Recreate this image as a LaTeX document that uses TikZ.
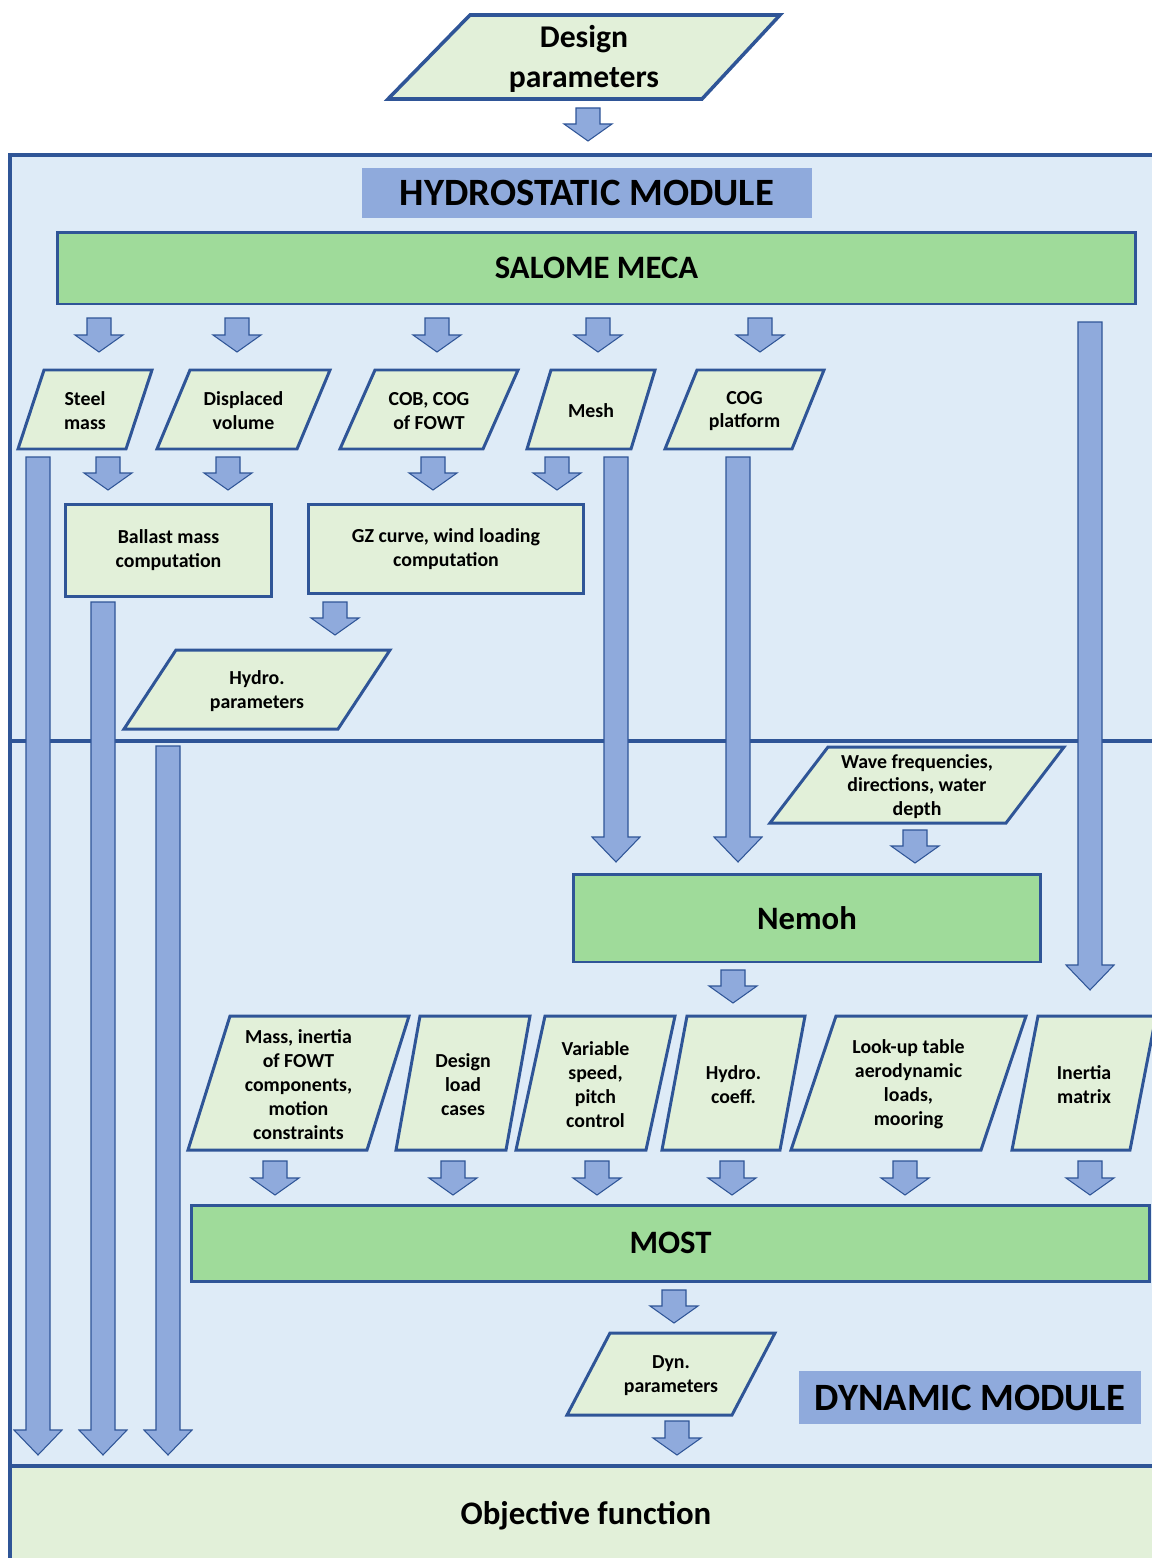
\documentclass[tikz,border=0pt]{standalone}
\usepackage{fontspec}
\setmainfont{Carlito}
\definecolor{FlowBlue}{HTML}{2F5597}
\definecolor{FlowSky}{HTML}{DEEBF7}
\definecolor{FlowMint}{HTML}{E2F0D9}
\definecolor{FlowGreen}{HTML}{9FDB9A}
\definecolor{FlowSteel}{HTML}{8FAADC}
\tikzset{
    % Frames of the two modules
    modframe/.style={
        draw=FlowBlue,
        fill=FlowSky,
        line width=1.8pt
    },
    goalframe/.style={
        draw=FlowBlue,
        fill=FlowMint,
        line width=1.8pt
    },
    % Node styles
    titlebox/.style={
        rectangle,
        fill=FlowSteel,
        inner sep=0pt,
        font=\bfseries\fontsize{22}{26}\selectfont
    },
    toolbox/.style={
        rectangle,
        draw=FlowBlue,
        fill=FlowGreen,
        line width=1.7pt,
        inner sep=0pt,
        font=\bfseries\fontsize{18.6}{22}\selectfont
    },
    calcbox/.style={
        rectangle,
        draw=FlowBlue,
        fill=FlowMint,
        line width=1.7pt,
        inner sep=0pt,
        align=center,
        font=\bfseries\fontsize{11.3}{13.6}\selectfont
    },
    dataline/.style={
        draw=FlowBlue,
        fill=FlowMint,
        line width=1.7pt,
        line join=miter
    },
    datatext/.style={
        align=center,
        inner sep=0pt,
        font=\bfseries\fontsize{11.3}{13.6}\selectfont
    },
    % Block arrows
    fatarrow/.style={
        draw=FlowBlue,
        fill=FlowSteel,
        line width=0.6pt
    }
}
% parallelogram: name, x top-left, x top-right, y top, y bottom, slant, text
\newcommand{\databox}[7]{%
    \draw[dataline] (#2,#4) -- (#3,#4) -- ({#3-#6},#5) -- ({#2-#6},#5) -- cycle;
    \node[datatext] (#1) at ({(#2+#3-#6)/2},{(#4+#5)/2+1.5}) {#7};}
% block arrow: [head length] x, y top, y tip
\newcommand{\fatarrow}[4][17]{%
    \draw[fatarrow] ({#2-12},#3) -- ({#2+12},#3) -- ({#2+12},{#4-#1})
        -- ({#2+24},{#4-#1}) -- (#2,#4) -- ({#2-24},{#4-#1})
        -- ({#2-12},{#4-#1}) -- cycle;}

\begin{document}
\begin{tikzpicture}[x=0.02cm,y=-0.02cm]
    \useasboundingbox (0,0) rectangle (1152,1558);

    % Module frames
    \draw[modframe] (10,155) rectangle (1180,741);
    \draw[modframe] (10,741) rectangle (1180,1466);
    \draw[goalframe] (10,1466) rectangle (1180,1600);

    % Input
    \draw[dataline,line width=2pt] (470,15) -- (780,15) -- (702,99) -- (388,99) -- cycle;
    \node[datatext,font=\bfseries\fontsize{18}{23}\selectfont] (design) at (584,59) {Design\\parameters};
    \fatarrow{588}{108}{141}

    % Hydrostatic module
    \node[titlebox,minimum width=9cm,minimum height=1cm] (hydtitle) at (587,193) {HYDROSTATIC MODULE};
    \node[toolbox,minimum width=21.58cm,minimum height=1.44cm] (salome) at (596.5,268) {SALOME MECA};

    \foreach \xa in {99,237,437,598,760}
        \fatarrow{\xa}{318}{352};
    \fatarrow[25]{1090}{322}{990}

    \databox{steel}{44}{152}{370}{449}{26}{Steel\\mass}
    \databox{dispvol}{190}{330}{370}{449}{33}{Displaced\\volume}
    \databox{cobcog}{375}{518}{370}{449}{35}{COB, COG\\of FOWT}
    \databox{mesh}{551}{655}{370}{449}{24}{Mesh}
    \databox{cogplat}{697}{824}{370}{449}{32}{COG\\platform}

    \foreach \xa in {108,228,433,557}
        \fatarrow{\xa}{457}{490};

    \node[calcbox,minimum width=4.14cm,minimum height=1.84cm] (ballast) at (168.5,550.5) {Ballast mass\\computation};
    \node[calcbox,minimum width=5.52cm,minimum height=1.78cm] (gzcurve) at (446,549) {GZ curve, wind loading\\computation};

    \fatarrow{335}{602}{635}
    \databox{hydpar}{176}{390}{650}{729}{52}{Hydro.\\parameters}

    % Long arrows down to the objective function
    \fatarrow[25]{38}{457}{1455}
    \fatarrow[25]{103}{602}{1455}
    \fatarrow[25]{168}{746}{1455}
    \fatarrow[25]{616}{457}{862}
    \fatarrow[25]{738}{457}{862}

    % Dynamic module
    \databox{wave}{828}{1064}{747}{823}{58}{Wave frequencies,\\directions, water\\depth}
    \fatarrow{915}{830}{863}
    \node[toolbox,minimum width=9.36cm,minimum height=1.76cm] (nemoh) at (807,918) {Nemoh};
    \fatarrow{733}{970}{1003}

    \databox{massin}{230}{409}{1016}{1150}{42}{Mass, inertia\\of FOWT\\components,\\motion\\constraints}
    \databox{loadcase}{420}{530}{1016}{1150}{24}{Design\\load\\cases}
    \databox{control}{545}{675}{1016}{1150}{29}{Variable\\speed,\\pitch\\control}
    \databox{hydcoef}{687}{805}{1016}{1150}{25}{Hydro.\\coeff.}
    \databox{lookup}{836}{1026}{1016}{1150}{45}{Look-up table\\aerodynamic\\loads,\\mooring}
    \databox{inertia}{1038}{1156}{1016}{1150}{26}{Inertia\\matrix}

    \foreach \xa in {275,453,597,732,905,1090}
        \fatarrow{\xa}{1161}{1195};

    \node[toolbox,minimum width=19.18cm,minimum height=1.52cm] (most) at (670.5,1243) {MOST};
    \fatarrow{674}{1290}{1323}
    \databox{dynpar}{610}{775}{1333}{1415}{43}{Dyn.\\parameters}
    \fatarrow{677}{1421}{1455}
    \node[titlebox,minimum width=6.84cm,minimum height=1.06cm] (dyntitle) at (970,1397.5) {DYNAMIC MODULE};

    % Result
    \node[font=\bfseries\fontsize{18.7}{22}\selectfont] (objective) at (586,1516) {Objective function};
\end{tikzpicture}
\end{document}
